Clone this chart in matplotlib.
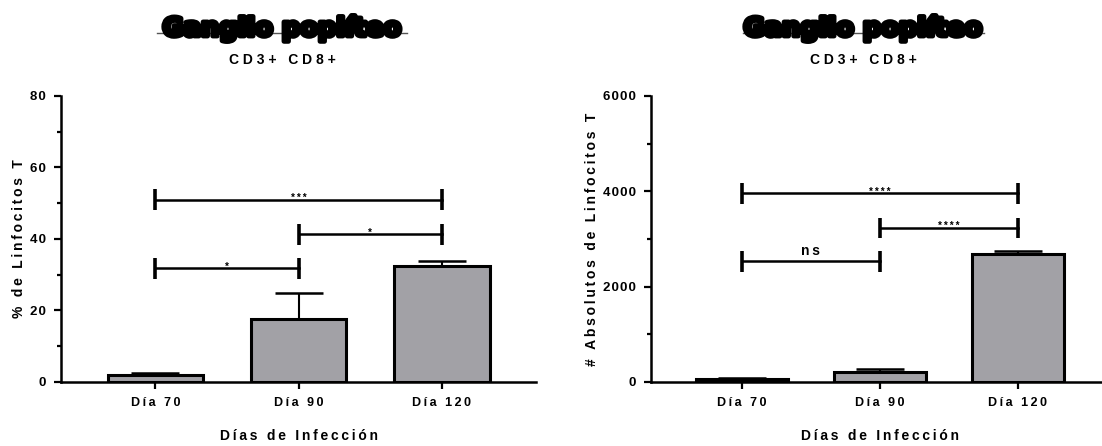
import matplotlib
matplotlib.use("Agg")
import matplotlib.pyplot as plt
import matplotlib.patheffects as pe
from matplotlib.lines import Line2D
import numpy as np

plt.rcParams['font.family'] = ['Liberation Sans', 'DejaVu Sans']

dias = ["Día 70", "Día 90", "Día 120"]

# panel izquierdo: porcentaje
pct = [2.0, 17.5, 32.5]
pct_err = [0.5, 7.3, 1.3]
pct_sig = [(0, 2, 51.0, "***"), (1, 2, 41.3, "*"), (0, 1, 31.8, "*")]

# panel derecho: absolutos
absn = [60, 210, 2680]
abs_err = [15, 70, 60]
abs_sig = [(0, 2, 3960, "****"), (1, 2, 3230, "****"), (0, 1, 2530, "ns")]


def spaced(s, sep="\u2009"):
    return sep.join(s)


fig = plt.figure(figsize=(11.02, 4.46), dpi=100)
ax1 = fig.add_axes([0.0554, 0.1435, 0.431, 0.6413])
ax2 = fig.add_axes([0.5907, 0.1435, 0.4155, 0.6413])


def panel(ax, vals, errs, sig, ymax, major, ylabel):
    x = np.arange(len(vals))
    ax.bar(x, vals, width=0.67, color="#a2a1a6", edgecolor="black",
           linewidth=2.2, zorder=2)
    ax.errorbar(x, vals, yerr=[np.zeros(len(vals)), errs], fmt="none",
                ecolor="black", elinewidth=1.5, capsize=17, capthick=1.8,
                zorder=1)
    h = 0.036 * ymax
    for i, j, y, lab in sig:
        ax.plot([i, j], [y, y], color="black", lw=1.8, zorder=3)
        for k in (i, j):
            ax.plot([k, k], [y - h, y + h], color="black", lw=2.6,
                    solid_capstyle="butt", zorder=3)
        if lab == "ns":
            ax.text((i + j) / 2, y + 0.012 * ymax, spaced(lab), ha="center",
                    va="bottom", fontsize=10, fontweight="bold")
        else:
            ax.text((i + j) / 2, y - 0.012 * ymax, spaced(lab), ha="center",
                    va="bottom", fontsize=7, fontweight="bold")
    ax.set_xlim(-0.66, 2.66)
    ax.set_ylim(0, ymax)
    ax.set_yticks(np.arange(0, ymax + 1, major))
    ax.set_yticks(np.arange(major / 2, ymax, major), minor=True)
    ax.set_yticklabels([spaced(str(int(v)), "\u200a")
                        for v in np.arange(0, ymax + 1, major)],
                       fontsize=9.5, fontweight="bold")
    ax.set_xticks(x)
    ax.set_xticklabels([spaced(d) for d in dias], fontsize=9,
                       fontweight="bold")
    ax.tick_params(axis="both", which="major", direction="out", length=5,
                   width=1.6, pad=6)
    ax.tick_params(axis="y", which="minor", direction="out", length=3,
                   width=1.6)
    for s in ("top", "right"):
        ax.spines[s].set_visible(False)
    for s in ("left", "bottom"):
        ax.spines[s].set_linewidth(1.8)
    ax.set_xlabel(spaced("Días de Infección"), fontsize=10,
                  fontweight="bold", labelpad=14)
    ax.set_ylabel(spaced(ylabel), fontsize=10, fontweight="bold",
                  labelpad=3)


panel(ax1, pct, pct_err, pct_sig, 80, 20, "% de Linfocitos T")
panel(ax2, absn, abs_err, abs_sig, 6000, 2000, "# Absolutos de Linfocitos T")

for cx, x0, x1 in [(282, 157, 407), (863, 743, 984)]:
    fig.text(cx / 1102, 1 - 36 / 446, "Ganglio poplíteo", ha="center",
             va="baseline", fontsize=18.5, fontweight="heavy",
             family="DejaVu Sans",
             path_effects=[pe.withStroke(linewidth=3.5, foreground="black")])
    fig.add_artist(Line2D([x0 / 1102, x1 / 1102],
                          [1 - 33 / 446, 1 - 33 / 446],
                          color="#555555", lw=1, transform=fig.transFigure))
    fig.text(cx / 1102, 1 - 60 / 446, spaced("CD3+ CD8+", " "), ha="center",
             va="center", fontsize=10, fontweight="bold")

fig.savefig("out.png", dpi=100)
